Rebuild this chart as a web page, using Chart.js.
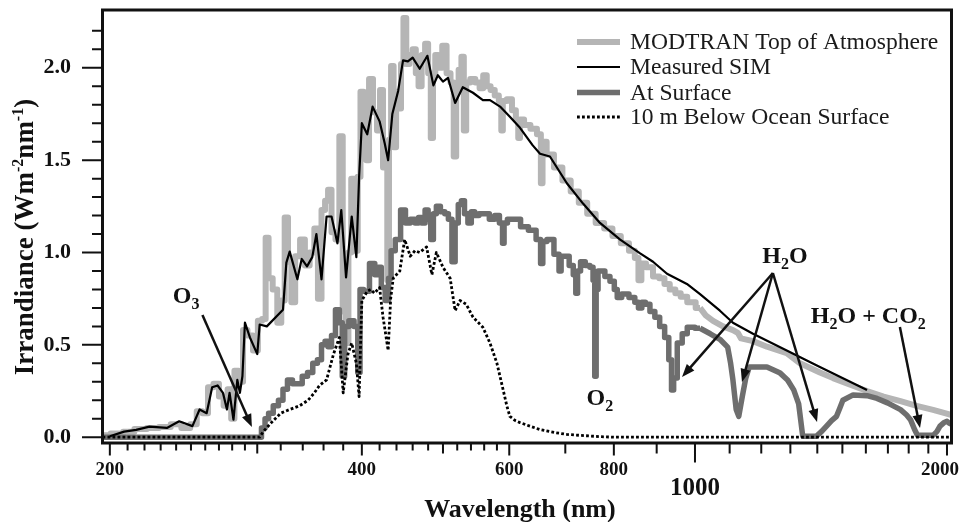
<!DOCTYPE html>
<html>
<head>
<meta charset="utf-8">
<script src="https://cdn.jsdelivr.net/npm/chart.js@4.4.0/dist/chart.umd.min.js"></script>
<style>
  html, body { margin: 0; padding: 0; background: #fff; }
  #wrap { width: 960px; height: 522px; position: relative; }
</style>
</head>
<body>
<div id="wrap"><canvas id="spectrum"></canvas></div>
<script>
// Values (wavelength in nm, irradiance in W m-2 nm-1)
const toaWavelength = [196, 205, 210, 218, 225, 233, 240, 247, 252, 256, 260, 264, 268, 272, 275, 278, 280.5, 283, 287, 290, 294, 299, 302, 306, 308, 311, 315, 319, 322, 325, 328, 331, 335, 340, 344, 349, 353, 356, 360, 363, 366, 370, 374, 378, 381, 384, 387, 390, 394, 397, 400, 404, 406, 410, 415, 419, 422, 426, 428, 430, 432, 435, 438, 441, 444, 447, 450, 454, 458, 462, 466, 469, 474, 478, 482, 485, 488, 491, 496, 502, 508, 513, 517, 520, 524, 528, 531, 535, 543, 550, 556, 561, 567, 573, 580, 586, 588, 591, 601, 608, 614, 616, 620, 630, 642, 653, 656, 659, 671, 686, 703, 718, 735, 752, 770, 788, 806, 825, 843, 852, 860, 866, 882, 900, 913, 926, 940, 955, 968, 990, 1014, 1030, 1051, 1080, 1110, 1125, 1135, 1173, 1219, 1287, 1335, 1410, 1462, 1530, 1605, 1680, 1760, 1840, 1925, 2008, 2025];
const toaIrradiance = [0.01, 0.02, 0.03, 0.045, 0.05, 0.055, 0.07, 0.05, 0.07, 0.14, 0.13, 0.27, 0.29, 0.22, 0.17, 0.26, 0.10, 0.36, 0.30, 0.58, 0.55, 0.47, 0.63, 0.64, 1.08, 0.86, 0.80, 0.62, 0.74, 1.19, 0.95, 0.73, 0.98, 1.07, 0.93, 1.00, 1.13, 0.75, 1.23, 1.28, 1.34, 1.11, 1.07, 1.63, 0.68, 0.51, 1.00, 1.40, 1.01, 1.41, 1.87, 1.61, 1.50, 1.94, 1.76, 1.66, 1.88, 1.46, 1.56, 0.85, 1.61, 2.01, 1.57, 1.87, 1.78, 2.02, 2.27, 2.02, 2.07, 2.10, 1.97, 1.90, 2.07, 2.13, 1.97, 1.62, 1.97, 2.07, 2.00, 2.12, 1.97, 1.92, 1.52, 1.87, 1.99, 2.06, 1.66, 1.92, 1.94, 1.92, 1.89, 1.96, 1.90, 1.88, 1.85, 1.82, 1.66, 1.82, 1.83, 1.77, 1.72, 1.62, 1.72, 1.69, 1.67, 1.64, 1.375, 1.60, 1.53, 1.46, 1.39, 1.33, 1.27, 1.21, 1.16, 1.13, 1.09, 1.05, 1.01, 0.97, 0.85, 0.94, 0.92, 0.87, 0.86, 0.83, 0.80, 0.78, 0.76, 0.73, 0.70, 0.66, 0.63, 0.60, 0.58, 0.565, 0.535, 0.52, 0.49, 0.455, 0.40, 0.35, 0.32, 0.285, 0.25, 0.22, 0.195, 0.17, 0.148, 0.125, 0.12];

const simWavelength = [200, 208, 215, 223, 234, 242, 251, 256, 261, 265, 269, 273, 276, 278, 281, 284, 286, 288, 290, 294, 300, 302, 308, 322, 325, 328, 335, 339, 344, 349, 353, 358, 363, 368, 374, 378, 383, 389, 394, 397, 400, 406, 412, 420, 426, 430, 435, 442, 448, 454, 460, 469, 479, 487, 493, 500, 507, 517, 528, 543, 558, 569, 585, 601, 618, 640, 653, 671, 703, 735, 770, 814, 860, 891, 926, 978, 1014, 1071, 1110, 1173, 1287, 1410, 1605];
const simIrradiance = [0.005, 0.03, 0.04, 0.057, 0.05, 0.086, 0.06, 0.15, 0.13, 0.27, 0.28, 0.24, 0.15, 0.24, 0.095, 0.31, 0.24, 0.33, 0.62, 0.54, 0.45, 0.61, 0.60, 0.69, 0.945, 1.005, 0.855, 0.965, 0.925, 0.975, 1.10, 0.855, 1.195, 1.195, 1.05, 1.23, 0.865, 1.195, 0.975, 1.41, 1.70, 1.64, 1.79, 1.71, 1.59, 1.50, 1.75, 1.875, 2.04, 2.035, 2.055, 1.995, 2.065, 1.905, 1.96, 1.925, 1.945, 1.81, 1.895, 1.865, 1.825, 1.825, 1.79, 1.735, 1.675, 1.58, 1.535, 1.52, 1.375, 1.265, 1.16, 1.07, 0.995, 0.95, 0.885, 0.83, 0.775, 0.685, 0.62, 0.56, 0.47, 0.38, 0.256];

const surfaceWavelength = [196, 302, 305, 308, 311, 316, 320, 324, 328, 333, 337, 342, 347, 352, 356, 360, 363, 366, 370, 374, 378, 380, 383, 389, 394, 397, 399, 405, 412, 417, 420, 424, 429, 432, 435, 442, 448, 454, 460, 466, 469, 474, 478, 482, 485, 489, 493, 500, 505, 510, 515, 519, 524, 528, 533, 538, 543, 548, 556, 563, 573, 580, 588, 590, 593, 601, 613, 625, 640, 652, 656, 660, 671, 686, 690, 694, 703, 712, 719, 722, 726, 734, 745, 753, 758, 760, 764, 768, 775, 786, 797, 805, 810, 825, 843, 852, 860, 868, 877, 890, 901, 914, 926, 935, 940, 946, 959, 972, 986, 1014, 1043, 1071, 1094, 1103, 1110, 1120, 1128, 1139, 1150, 1161, 1190, 1219, 1264, 1290, 1312, 1330, 1345, 1396, 1416, 1436, 1456, 1476, 1490, 1502, 1545, 1605, 1650, 1698, 1760, 1790, 1809, 1830, 1844, 1925, 1945, 1962, 1985, 2000, 2014, 2025];
const surfaceIrradiance = [0, 0, 0.05, 0.10, 0.13, 0.17, 0.20, 0.26, 0.31, 0.29, 0.29, 0.33, 0.35, 0.40, 0.42, 0.50, 0.52, 0.49, 0.55, 0.69, 0.62, 0.33, 0.60, 0.63, 0.60, 0.35, 0.80, 0.79, 0.94, 0.88, 0.92, 0.81, 0.74, 0.86, 1.01, 1.07, 1.23, 1.16, 1.18, 1.16, 1.19, 1.16, 1.23, 1.18, 1.07, 1.21, 1.25, 1.22, 1.21, 1.18, 0.95, 1.16, 1.26, 1.28, 1.21, 1.16, 1.22, 1.20, 1.21, 1.21, 1.18, 1.20, 1.16, 1.05, 1.16, 1.18, 1.18, 1.14, 1.12, 1.07, 0.94, 1.06, 1.07, 0.99, 0.90, 0.98, 0.98, 0.93, 0.88, 0.78, 0.90, 0.95, 0.93, 0.92, 0.85, 0.33, 0.80, 0.90, 0.90, 0.87, 0.845, 0.80, 0.756, 0.776, 0.756, 0.73, 0.70, 0.73, 0.72, 0.68, 0.65, 0.60, 0.54, 0.42, 0.256, 0.32, 0.51, 0.56, 0.595, 0.59, 0.56, 0.53, 0.488, 0.40, 0.31, 0.15, 0.113, 0.22, 0.32, 0.38, 0.38, 0.38, 0.347, 0.31, 0.256, 0.18, 0.005, 0.005, 0.03, 0.06, 0.09, 0.113, 0.16, 0.20, 0.229, 0.225, 0.21, 0.186, 0.149, 0.12, 0.095, 0.04, 0.01, 0.01, 0.03, 0.06, 0.08, 0.086, 0.075, 0.07];

const oceanWavelength = [196, 302, 305, 312, 320, 328, 337, 345, 351, 356, 363, 370, 376, 380, 385, 389, 394, 397, 400, 406, 410, 414, 420, 424, 430, 433, 436, 444, 450, 457, 463, 469, 478, 485, 491, 500, 510, 517, 524, 533, 543, 558, 569, 580, 590, 596, 601, 610, 618, 635, 653, 680, 703, 740, 770, 800, 2025];
const oceanIrradiance = [0, 0, 0.03, 0.08, 0.13, 0.15, 0.17, 0.20, 0.24, 0.28, 0.31, 0.45, 0.54, 0.24, 0.45, 0.51, 0.40, 0.22, 0.74, 0.79, 0.80, 0.78, 0.81, 0.65, 0.47, 0.75, 0.86, 0.90, 1.07, 0.98, 1.01, 1.00, 1.03, 0.88, 1.00, 0.92, 0.86, 0.685, 0.74, 0.72, 0.65, 0.595, 0.51, 0.40, 0.256, 0.17, 0.113, 0.09, 0.079, 0.06, 0.041, 0.025, 0.015, 0.008, 0.003, 0, 0];

const seriesLabels = ['MODTRAN Top of Atmosphere', 'Measured SIM', 'At Surface', '10 m Below Ocean Surface'];

const xTickValues = [200, 210, 220, 230, 240, 250, 260, 270, 280, 290, 300, 320, 340, 360, 380, 400, 420, 440, 460, 480, 500, 520, 540, 560, 580, 600, 700, 800, 900, 1000, 1100, 1200, 1300, 1400, 1500, 1600, 1700, 1800, 1900, 2000];
const xTickLabels = [200, 400, 600, 800, 1000, 2000];
const yTickLabels = [0, 0.5, 1.0, 1.5, 2.0];
const yMinorTicks = [0.1, 0.2, 0.3, 0.4, 0.6, 0.7, 0.8, 0.9, 1.1, 1.2, 1.3, 1.4, 1.6, 1.7, 1.8, 1.9, 2.1, 2.2];

// model spectra look binned (stepped) below this wavelength, smooth above it
const STEP_LIMIT = 1014;

// annotations: label anchor (wavelength, irradiance) and arrows [from, to]
const notes = [
  { text: 'O3', at: [246.7, 0.727], arrows: [[[258, 0.662], [295.6, 0.055]]] },
  { text: 'O2', at: [770, 0.174], arrows: [] },
  { text: 'H2O', at: [1281, 0.943], arrows: [[[1239, 0.889], [965, 0.326]], [[1239, 0.889], [1138, 0.299]], [[1239, 0.889], [1399, 0.082]]] },
  { text: 'H2O + CO2', at: [1611, 0.618], arrows: [[[1757, 0.597], [1857, 0.05]]] }
];

const SERIF = '"Liberation Serif", "Times New Roman", serif';
const INK = '#111';
const TOA_GREY = '#b5b5b5';
const SURF_GREY = '#6e6e6e';

function pts(xs, ys) {
  return xs.map((x, i) => ({ x: x, y: ys[i] }));
}

function drawArrow(ctx, x1, y1, x2, y2) {
  const ang = Math.atan2(y2 - y1, x2 - x1);
  const hl = 13, hw = 5;
  ctx.beginPath();
  ctx.moveTo(x1, y1);
  ctx.lineTo(x2 - Math.cos(ang) * hl * 0.8, y2 - Math.sin(ang) * hl * 0.8);
  ctx.stroke();
  ctx.beginPath();
  ctx.moveTo(x2, y2);
  ctx.lineTo(x2 - Math.cos(ang) * hl + Math.sin(ang) * hw, y2 - Math.sin(ang) * hl - Math.cos(ang) * hw);
  ctx.lineTo(x2 - Math.cos(ang) * hl - Math.sin(ang) * hw, y2 - Math.sin(ang) * hl + Math.cos(ang) * hw);
  ctx.closePath();
  ctx.fill();
}

// digits become subscripts
function drawChem(ctx, str, cx, base) {
  const big = 'bold 24px ' + SERIF, small = 'bold 16px ' + SERIF;
  const parts = str.split('').map(ch => ({ ch: ch, sub: /[0-9]/.test(ch) }));
  let w = 0;
  parts.forEach(p => { ctx.font = p.sub ? small : big; p.w = ctx.measureText(p.ch).width; w += p.w; });
  let x = cx - w / 2;
  ctx.textAlign = 'left';
  ctx.textBaseline = 'alphabetic';
  parts.forEach(p => {
    ctx.font = p.sub ? small : big;
    ctx.fillText(p.ch, x, p.sub ? base + 6 : base);
    x += p.w;
  });
}

const decorations = {
  id: 'decorations',
  afterDraw(chart) {
    const { ctx, chartArea: a, scales: { x, y } } = chart;
    ctx.save();
    ctx.strokeStyle = INK;
    ctx.fillStyle = INK;

    // frame
    ctx.lineWidth = 3;
    ctx.strokeRect(a.left, a.top, a.right - a.left, a.bottom - a.top);

    // tick marks
    ctx.lineWidth = 2;
    ctx.beginPath();
    xTickValues.forEach(v => {
      const px = x.getPixelForValue(v);
      let len = 6;
      if (v === 1000) len = 18;
      else if (xTickLabels.includes(v)) len = 11;
      else if (v % 100 === 0) len = 9;
      ctx.moveTo(px, a.bottom);
      ctx.lineTo(px, a.bottom + 1.5 + len);
    });
    yTickLabels.forEach(v => {
      const py = y.getPixelForValue(v);
      ctx.moveTo(a.left, py);
      ctx.lineTo(a.left - 1.5 - 19, py);
    });
    yMinorTicks.forEach(v => {
      const py = y.getPixelForValue(v);
      ctx.moveTo(a.left, py);
      ctx.lineTo(a.left - 1.5 - 9, py);
    });
    ctx.stroke();

    // x tick labels
    ctx.textAlign = 'center';
    ctx.textBaseline = 'alphabetic';
    xTickLabels.forEach(v => {
      const px = x.getPixelForValue(v);
      if (v === 1000) {
        ctx.font = 'bold 25px ' + SERIF;
        ctx.fillText(String(v), px, 495);
      } else {
        ctx.font = 'bold 19px ' + SERIF;
        ctx.fillText(String(v), v === 2000 ? px - 7 : px, 475);
      }
    });

    // axis titles
    ctx.font = 'bold 26px ' + SERIF;
    ctx.fillText('Wavelength (nm)', (a.left + a.right) / 2 - 7, 517);

    const segs = [['Irrandiance (Wm', 0], ['-2', 1], ['nm', 0], ['-1', 1], [')', 0]];
    let tw = 0;
    segs.forEach(s => { ctx.font = (s[1] ? 'bold 16px ' : 'bold 27px ') + SERIF; s.w = ctx.measureText(s[0]).width; tw += s.w; });
    ctx.save();
    ctx.translate(33, 237);
    ctx.rotate(-Math.PI / 2);
    ctx.textAlign = 'left';
    let tx = -tw / 2;
    segs.forEach(s => {
      ctx.font = (s[1] ? 'bold 16px ' : 'bold 27px ') + SERIF;
      ctx.fillText(s[0], tx, s[1] ? -10 : 0);
      tx += s.w;
    });
    ctx.restore();

    // legend (one entry per series, the smooth tails are left out)
    const rows = [42, 67, 92.5, 117];
    ctx.font = '23.6px ' + SERIF;
    ctx.textAlign = 'left';
    chart.data.datasets.filter(ds => ds.inLegend).forEach((ds, i) => {
      ctx.save();
      ctx.strokeStyle = ds.borderColor;
      ctx.lineWidth = ds.borderWidth;
      ctx.setLineDash(ds.borderDash || []);
      ctx.beginPath();
      ctx.moveTo(577, rows[i]);
      ctx.lineTo(620, rows[i]);
      ctx.stroke();
      ctx.restore();
      ctx.fillStyle = '#1a1a1a';
      ctx.fillText(ds.label, 630, rows[i] + 7);
    });

    // annotations
    ctx.fillStyle = INK;
    ctx.strokeStyle = INK;
    ctx.lineWidth = 2.5;
    notes.forEach(n => {
      drawChem(ctx, n.text, x.getPixelForValue(n.at[0]), y.getPixelForValue(n.at[1]));
      n.arrows.forEach(ar => {
        drawArrow(ctx,
          x.getPixelForValue(ar[0][0]), y.getPixelForValue(ar[0][1]),
          x.getPixelForValue(ar[1][0]), y.getPixelForValue(ar[1][1]));
      });
    });
    ctx.restore();
  }
};

const toaPoints = pts(toaWavelength, toaIrradiance);
const surfacePoints = pts(surfaceWavelength, surfaceIrradiance);

new Chart(document.getElementById('spectrum'), {
  type: 'line',
  data: {
    datasets: [
      { label: seriesLabels[0], inLegend: true, data: toaPoints.filter(p => p.x <= STEP_LIMIT), borderColor: TOA_GREY, borderWidth: 6, stepped: 'middle', order: 6 },
      { label: seriesLabels[0], data: toaPoints.filter(p => p.x >= STEP_LIMIT), borderColor: TOA_GREY, borderWidth: 6, order: 5 },
      { label: seriesLabels[1], inLegend: true, data: pts(simWavelength, simIrradiance), borderColor: '#000', borderWidth: 2.2, order: 2 },
      { label: seriesLabels[2], inLegend: true, data: surfacePoints.filter(p => p.x <= STEP_LIMIT), borderColor: SURF_GREY, borderWidth: 5.5, stepped: 'middle', order: 4 },
      { label: seriesLabels[2], data: surfacePoints.filter(p => p.x >= STEP_LIMIT), borderColor: SURF_GREY, borderWidth: 5.5, order: 3 },
      { label: seriesLabels[3], inLegend: true, data: pts(oceanWavelength, oceanIrradiance), borderColor: '#000', borderWidth: 2.8, borderDash: [2.8, 2.2], order: 1 }
    ]
  },
  options: {
    responsive: true,
    maintainAspectRatio: false,
    animation: false,
    devicePixelRatio: 1,
    layout: { padding: { left: 0, top: 10, right: 8.5, bottom: 0 } },
    elements: {
      point: { radius: 0 },
      line: { tension: 0, borderJoinStyle: 'round', fill: false }
    },
    plugins: {
      legend: { display: false },
      tooltip: { enabled: false }
    },
    scales: {
      x: {
        type: 'logarithmic',
        min: 196,
        max: 2025,
        grid: { display: false },
        border: { display: false },
        ticks: { display: false },
        afterFit(s) { s.height = 79; s.paddingLeft = 0; s.paddingRight = 0; }
      },
      y: {
        type: 'linear',
        min: -0.0314,
        max: 2.313,
        grid: { display: false },
        border: { display: false },
        ticks: {
          padding: 23.5,
          color: INK,
          font: { family: SERIF, size: 22, weight: 'bold' },
          callback: v => Number(v).toFixed(1)
        },
        afterBuildTicks(s) { s.ticks = yTickLabels.map(v => ({ value: v })); },
        afterFit(s) { s.width = 102.5; s.paddingTop = 0; s.paddingBottom = 0; }
      }
    }
  },
  plugins: [decorations]
});
</script>
</body>
</html>
